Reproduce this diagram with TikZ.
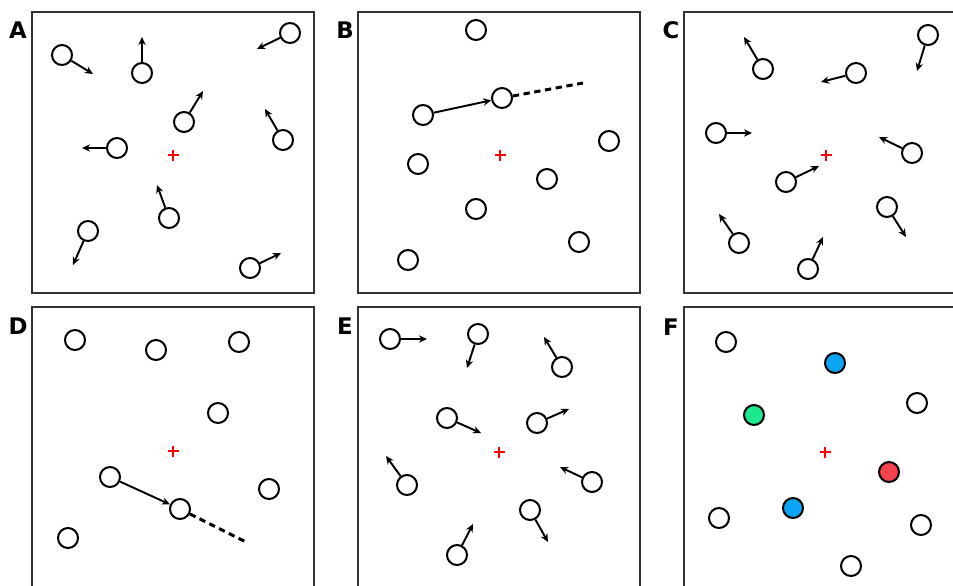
\documentclass[tikz,border=0pt]{standalone}
\usepackage{fontspec}
\usepackage{xcolor}
\usepackage{tikz}
\usetikzlibrary{
  arrows.meta,
  positioning
}
\newfontfamily\labelfont{DejaVu Sans}

\definecolor{partblue}{HTML}{0AA5F5}
\definecolor{partgreen}{HTML}{1CE88E}
\definecolor{partred}{HTML}{F5424C}
\definecolor{framegray}{HTML}{333333}

\begin{document}
\begin{tikzpicture}[
      x=0.02cm, y=-0.02cm,
      >=Stealth,
      particula/.style={circle, draw=black, fill=white, line width=1.15pt,
                        minimum size=0.4cm, inner sep=0pt},
      vel/.style={line width=1.1pt, black,
                  arrows={-Stealth[length=4.6pt, width=4.2pt]}},
      rastro/.style={line width=1.7pt, black, dash pattern=on 3.6pt off 2.6pt},
      quadro/.style={draw=framegray, line width=1pt},
      centro/.style={red, line width=0.6pt},
      letra/.style={font=\labelfont\bfseries\fontsize{13}{14}\selectfont}
  ]
      \useasboundingbox (0,0) rectangle (953,585);
      \clip (0,0) rectangle (953,585);

      % Quadros e centros
      \foreach \p/\fx/\fy/\cx/\cy in {A/32/12/173/155, B/358/12/500/155, C/684/12/826/155,
                                      D/32/307/173/451, E/358/307/499/452, F/684/307/825/452} {
        \draw[quadro] (\fx,\fy) rectangle ++(282,281);
        \coordinate (c\p) at (\cx,\cy);
        \draw[centro] ([xshift=-5.5*0.02cm]c\p) -- ([xshift=5.5*0.02cm]c\p)
                      ([yshift=-5.5*0.02cm]c\p) -- ([yshift=5.5*0.02cm]c\p);
      }

      % Rotulos
      \node[letra] (lblA) at (18,30)  {A};
      \node[letra] (lblB) at (345,30) {B};
      \node[letra] (lblC) at (671,30) {C};
      \node[letra] (lblD) at (18,326) {D};
      \node[letra] (lblE) at (345,326) {E};
      \node[letra] (lblF) at (671,327) {F};

      % A: particulas com velocidades
      \foreach \n/\x/\y/\u/\v in {1/62/55/93/74, 2/142/73/142/37, 3/290/33/257/49,
                                  4/184/122/203/91, 5/283/140/265/109, 6/117/148/82/148,
                                  7/169/218/157/185, 8/88/231/73/265, 9/250/268/281/253} {
        \node[particula] (A\n) at (\x,\y) {};
        \coordinate (A\n v) at (\u,\v);
        \draw[vel] (A\n) -- (A\n v);
      }

      % B: um deslocamento
      \foreach \n/\x/\y in {1/476/30, 2/423/115, 3/502/98, 4/609/141, 5/418/164,
                            6/547/179, 7/476/209, 8/579/242, 9/408/260} {
        \node[particula] (B\n) at (\x,\y) {};
      }
      \coordinate (Bfim) at (583,83);
      \draw[vel] (B2) -- (B3);
      \draw[rastro] (B3) -- (Bfim);

      % C: particulas com velocidades
      \foreach \n/\x/\y/\u/\v in {1/763/69/744/37, 2/928/35/917/71, 3/856/73/821/82,
                                  4/716/133/752/133, 5/912/153/879/137, 6/786/182/819/166,
                                  7/887/207/906/237, 8/739/243/719/214, 9/808/269/823/237} {
        \node[particula] (C\n) at (\x,\y) {};
        \coordinate (C\n v) at (\u,\v);
        \draw[vel] (C\n) -- (C\n v);
      }

      % D: um deslocamento
      \foreach \n/\x/\y in {1/75/340, 2/156/350, 3/239/342, 4/218/413,
                            5/110/477, 6/180/509, 7/269/489, 8/68/538} {
        \node[particula] (D\n) at (\x,\y) {};
      }
      \coordinate (Dfim) at (246,542);
      \draw[vel] (D5) -- (D6);
      \draw[rastro] (D6) -- (Dfim);

      % E: particulas com velocidades
      \foreach \n/\x/\y/\u/\v in {1/390/339/427/339, 2/478/334/467/368, 3/562/367/544/337,
                                  4/447/418/481/433, 5/537/423/569/409, 6/407/485/386/456,
                                  7/592/482/560/467, 8/530/510/548/542, 9/457/555/473/524} {
        \node[particula] (E\n) at (\x,\y) {};
        \coordinate (E\n v) at (\u,\v);
        \draw[vel] (E\n) -- (E\n v);
      }

      % F: particulas coloridas
      \foreach \n/\x/\y/\cor in {1/726/342/white, 2/835/363/partblue, 3/917/403/white,
                                 4/754/415/partgreen, 5/889/472/partred, 6/793/508/partblue,
                                 7/719/518/white, 8/921/525/white, 9/851/566/white} {
        \node[particula, fill=\cor] (F\n) at (\x,\y) {};
      }
  \end{tikzpicture}
\end{document}
